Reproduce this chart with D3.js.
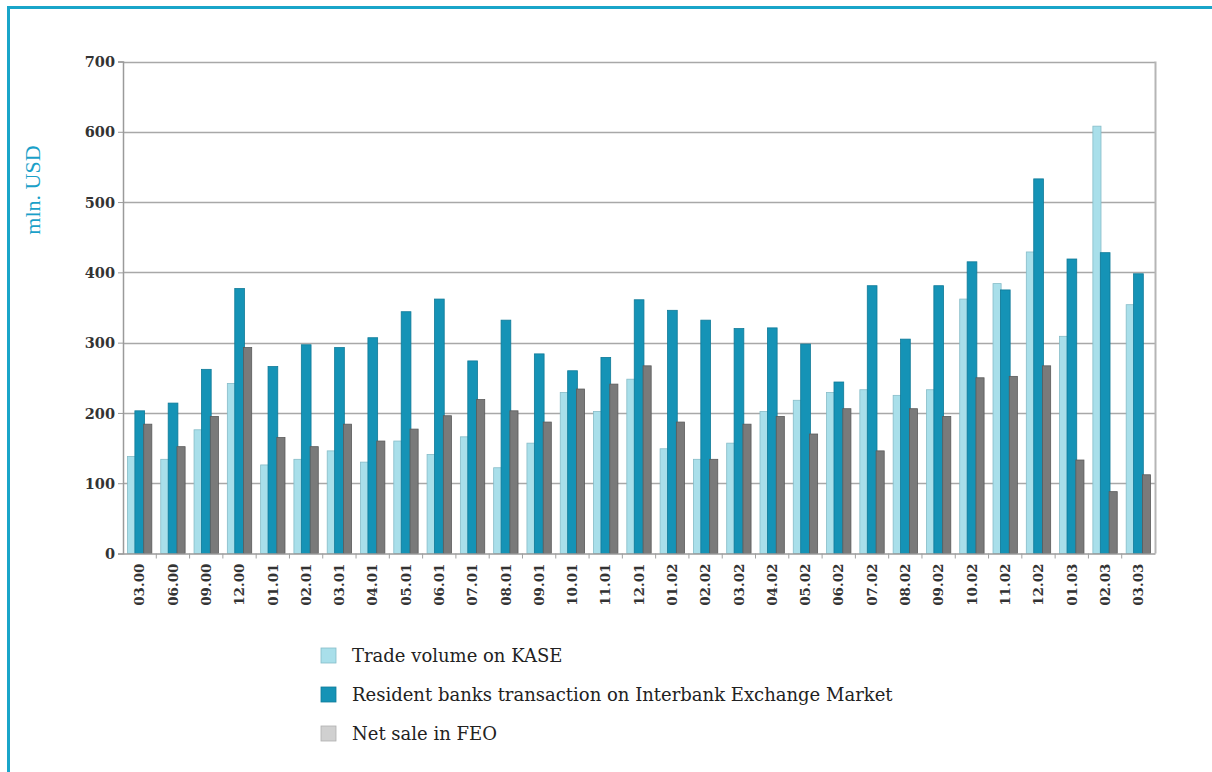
<!DOCTYPE html>
<html>
<head>
<meta charset="utf-8">
<script src="https://cdn.jsdelivr.net/npm/d3@7"></script>
<style>
  html, body { margin: 0; padding: 0; background: #fff; }
  svg { display: block; }
</style>
</head>
<body>
<svg id="chart" width="1212" height="772"></svg>
<script>
const categories = ["03.00","06.00","09.00","12.00","01.01","02.01","03.01","04.01","05.01","06.01",
  "07.01","08.01","09.01","10.01","11.01","12.01","01.02","02.02","03.02","04.02","05.02","06.02",
  "07.02","08.02","09.02","10.02","11.02","12.02","01.03","02.03","03.03"];
const tradeKASE = [138,134,176,242,126,134,146,130,160,141,166,122,157,229,202,248,149,134,157,202,218,229,233,225,233,362,384,429,309,608,354];
const residentBanks = [203,214,262,377,266,297,293,307,344,362,274,332,284,260,279,361,346,332,320,321,298,244,381,305,381,415,375,533,419,428,398];
const netSaleFEO = [184,152,195,293,165,152,184,160,177,196,219,203,187,234,241,267,187,134,184,195,170,206,146,206,195,250,252,267,133,88,112];
const seriesNames = ["Trade volume on KASE","Resident banks transaction on Interbank Exchange Market","Net sale in FEO"];
const yTicks = [0,100,200,300,400,500,600,700];

(function () {
const seriesData = [tradeKASE, residentBanks, netSaleFEO];
const fills = ["#a9dfea", "#1593b6", "#7a7a7a"];
const strokes = ["#86bcc8", "#0f7a98", "#5a5a5a"];
const legendFills = ["#a9dfea", "#1593b6", "#d0d0d0"];

const svg = d3.select("#chart");

// Frame lines (left and top)
svg.append("line").attr("x1", 8.5).attr("x2", 8.5).attr("y1", 6).attr("y2", 772)
  .attr("stroke", "#19a5c9").attr("stroke-width", 3);
svg.append("line").attr("x1", 7).attr("x2", 1212).attr("y1", 7.5).attr("y2", 7.5)
  .attr("stroke", "#19a5c9").attr("stroke-width", 3);

const pLeft = 123, pRight = 1155, pTop = 61.5, pBottom = 553.5;

const x = d3.scaleBand().domain(categories).range([pLeft, pRight]).paddingInner(0).paddingOuter(0);
const y = d3.scaleLinear().domain([0, 700]).range([pBottom, pTop]);
const xs = d3.scaleBand().domain([0,1,2]).range([0, x.bandwidth()]).paddingInner(0).paddingOuter(0.55);

// grid lines
svg.append("g").selectAll("line").data(yTicks.filter(d => d > 0)).join("line")
  .attr("x1", pLeft).attr("x2", pRight)
  .attr("y1", d => Math.round(y(d)) + 0.5).attr("y2", d => Math.round(y(d)) + 0.5)
  .attr("stroke", "#a8a8a8").attr("stroke-width", 1.5);

// right border
svg.append("line").attr("x1", pRight + 0.5).attr("x2", pRight + 0.5).attr("y1", y(700)).attr("y2", pBottom)
  .attr("stroke", "#b5b5b5").attr("stroke-width", 2);

// bars
const groups = svg.append("g").selectAll("g").data(categories).join("g")
  .attr("transform", d => `translate(${x(d)},0)`);
groups.selectAll("rect").data((c, i) => seriesData.map((s, k) => ({k, v: s[i]}))).join("rect")
  .attr("x", d => xs(d.k) + (d.k === 1 ? -0.7 : 0))
  .attr("width", d => xs.bandwidth() + (d.k === 1 ? 1.6 : 0))
  .attr("y", d => y(d.v))
  .attr("height", d => pBottom - y(d.v))
  .attr("fill", d => fills[d.k])
  .attr("stroke", d => strokes[d.k])
  .attr("stroke-width", 0.8);

// y axis
const yAxis = d3.axisLeft(y).tickValues(yTicks).tickSize(5).tickPadding(3).tickFormat(d3.format("d"));
const yg = svg.append("g").attr("transform", `translate(${pLeft},0)`).call(yAxis);
yg.select(".domain").attr("stroke", "#9a9a9a").attr("stroke-width", 1.5);
yg.selectAll(".tick line").attr("stroke", "#9a9a9a");
yg.selectAll(".tick text").attr("font-family", "'DejaVu Serif', serif").attr("font-weight", "bold")
  .attr("font-size", 14.5).attr("fill", "#333").attr("dy", "0.35em");

// x axis
const xAxis = d3.axisBottom(x).tickSize(0).tickPadding(0);
const xg = svg.append("g").attr("transform", `translate(0,${pBottom})`).call(xAxis);
xg.select(".domain").attr("stroke", "#9a9a9a").attr("stroke-width", 1.5);
xg.selectAll(".tick text")
  .attr("font-family", "'DejaVu Serif', serif").attr("font-weight", "bold")
  .attr("font-size", 13.5).attr("fill", "#333")
  .attr("transform", "rotate(-90)")
  .attr("text-anchor", "end").attr("x", -10).attr("y", 0).attr("dy", "0.35em");
// category boundary ticks
svg.append("g").selectAll("line").data(categories.slice(1)).join("line")
  .attr("x1", d => x(d)).attr("x2", d => x(d))
  .attr("y1", pBottom).attr("y2", pBottom + 5)
  .attr("stroke", "#a0a0a0");

// y label
svg.append("text").attr("transform", "translate(40,190) rotate(-90)")
  .attr("text-anchor", "middle")
  .attr("font-family", "'Liberation Serif', 'DejaVu Serif', serif")
  .attr("font-size", 22).attr("fill", "#1aa0c8").text("mln. USD");

// legend
const legend = svg.append("g").selectAll("g").data(seriesNames).join("g")
  .attr("transform", (d, i) => `translate(321,${648 + i * 39})`);
legend.append("rect").attr("width", 15).attr("height", 15)
  .attr("fill", (d, i) => legendFills[i])
  .attr("stroke", (d, i) => i === 2 ? "#b0b0b0" : strokes[i]).attr("stroke-width", 0.8);
legend.append("text").attr("x", 31).attr("y", 8).attr("dy", "0.35em")
  .attr("font-family", "'DejaVu Serif', serif")
  .attr("font-size", 18).attr("fill", "#222").text(d => d);
})();
</script>
</body>
</html>
